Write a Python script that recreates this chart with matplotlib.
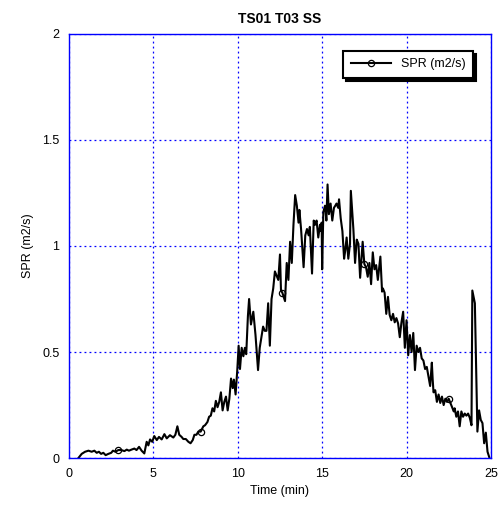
import numpy as np
import matplotlib.pyplot as plt

plt.rcParams['font.family'] = ['Liberation Sans', 'DejaVu Sans']

# time (min) and spread rate (m2/s)
time_min = [
    0.55, 0.75, 0.95, 1.15, 1.34, 1.5, 1.64, 1.77, 1.9, 2.03, 2.17, 2.33, 2.5, 2.6, 2.75,
    2.92, 3.1, 3.28, 3.42, 3.55, 3.7, 3.87, 4.0, 4.15, 4.3, 4.46, 4.6, 4.7, 4.8, 4.93,
    5.05, 5.2, 5.33, 5.49, 5.65, 5.79, 5.98, 6.18, 6.3, 6.42, 6.53, 6.67, 6.77, 6.92, 7.07,
    7.2, 7.33, 7.43, 7.55, 7.66, 7.8, 7.96, 8.06, 8.2, 8.3, 8.4, 8.5, 8.6, 8.7, 8.8,
    8.9, 9.0, 9.1, 9.2, 9.3, 9.4, 9.5, 9.6, 9.7, 9.77, 9.87, 9.97, 10.05, 10.13, 10.23,
    10.33, 10.42, 10.5, 10.6, 10.67, 10.78, 10.92, 11.05, 11.2, 11.3, 11.4, 11.5, 11.6, 11.7, 11.8,
    11.9, 12.0, 12.1, 12.2, 12.3, 12.4, 12.5, 12.56, 12.64, 12.8, 12.9, 13.0, 13.1, 13.2, 13.3,
    13.4, 13.5, 13.6, 13.65, 13.75, 13.84, 13.9, 14.0, 14.1, 14.2, 14.27, 14.4, 14.5, 14.58, 14.67,
    14.77, 14.87, 14.93, 14.97, 15.0, 15.07, 15.17, 15.25, 15.32, 15.4, 15.5, 15.6, 15.7, 15.78, 15.85,
    15.95, 16.0, 16.1, 16.2, 16.3, 16.37, 16.45, 16.55, 16.65, 16.7, 16.85, 16.95, 17.05, 17.15, 17.25,
    17.4, 17.5, 17.6, 17.7, 17.8, 17.9, 18.0, 18.1, 18.2, 18.3, 18.45, 18.55, 18.6, 18.7, 18.8,
    18.9, 19.0, 19.1, 19.2, 19.3, 19.4, 19.5, 19.6, 19.7, 19.8, 19.9, 20.0, 20.1, 20.2, 20.3,
    20.4, 20.5, 20.6, 20.7, 20.8, 20.9, 21.0, 21.1, 21.2, 21.3, 21.4, 21.5, 21.55, 21.6, 21.7,
    21.8, 21.9, 22.0, 22.1, 22.2, 22.3, 22.4, 22.5, 22.65, 22.8, 22.85, 22.95, 23.05, 23.15, 23.25,
    23.35, 23.45, 23.55, 23.65, 23.75, 23.85, 23.9, 24.05, 24.2, 24.3, 24.4, 24.5, 24.6, 24.7, 24.8,
    24.9,
]
spr = [
    0.0, 0.02, 0.03, 0.035, 0.03, 0.035, 0.025, 0.03, 0.02, 0.025, 0.014, 0.02, 0.025, 0.035, 0.03,
    0.038, 0.038, 0.033, 0.04, 0.035, 0.04, 0.045, 0.038, 0.053, 0.035, 0.022, 0.077, 0.06, 0.088, 0.077,
    0.104, 0.085, 0.10, 0.088, 0.113, 0.093, 0.108, 0.097, 0.11, 0.15, 0.11, 0.10, 0.09, 0.09, 0.077,
    0.07, 0.085, 0.11, 0.11, 0.125, 0.125, 0.15, 0.155, 0.17, 0.195, 0.20, 0.235, 0.22, 0.27, 0.24,
    0.265, 0.31, 0.225, 0.265, 0.29, 0.225, 0.28, 0.375, 0.33, 0.37, 0.30, 0.415, 0.53, 0.42, 0.52,
    0.48, 0.52, 0.49, 0.67, 0.75, 0.63, 0.69, 0.58, 0.415, 0.52, 0.57, 0.62, 0.60, 0.60, 0.73,
    0.53, 0.75, 0.80, 0.88, 0.86, 0.84, 0.96, 0.79, 0.78, 0.74, 0.92, 0.84, 1.02, 0.92, 1.10,
    1.24, 1.19, 1.11, 1.17, 1.08, 0.97, 0.90, 1.05, 1.08, 1.05, 1.09, 0.87, 1.12, 1.10, 1.12,
    1.04, 1.10, 1.07, 1.11, 0.89, 1.16, 1.19, 1.12, 1.29, 1.15, 1.20, 1.12, 1.18, 1.19, 1.20,
    1.18, 1.22, 1.13, 1.07, 0.94, 0.98, 1.04, 0.94, 1.01, 1.26, 1.08, 0.92, 1.03, 1.01, 0.85,
    1.02, 0.915, 0.90, 0.855, 0.92, 0.82, 0.97, 0.89, 0.91, 0.84, 0.95, 0.785, 0.80, 0.78, 0.68,
    0.76, 0.675, 0.65, 0.68, 0.64, 0.66, 0.635, 0.57, 0.64, 0.69, 0.52, 0.65, 0.485, 0.58, 0.50,
    0.59, 0.415, 0.53, 0.50, 0.52, 0.47, 0.46, 0.42, 0.43, 0.385, 0.34, 0.45, 0.37, 0.31, 0.32,
    0.265, 0.30, 0.26, 0.29, 0.25, 0.28, 0.265, 0.28, 0.25, 0.22, 0.235, 0.195, 0.22, 0.15, 0.22,
    0.195, 0.21, 0.20, 0.21, 0.19, 0.155, 0.79, 0.73, 0.125, 0.225, 0.18, 0.165, 0.07, 0.12, 0.03,
    0.005,
]
marker_times = [2.92, 7.8, 12.64, 17.5, 22.5]

t = np.array(time_min)
v = np.array(spr)
mark_idx = [int(np.argmin(np.abs(t - m))) for m in marker_times]

fig = plt.figure(figsize=(5.04, 5.13), dpi=100)
ax = fig.add_axes([0.137, 0.107, 0.837, 0.827])

ax.plot(t, v, '-', color='black', lw=1.5, marker='o', markersize=4.5,
        markerfacecolor='none', markeredgecolor='black', markeredgewidth=0.9,
        markevery=mark_idx, label='SPR (m2/s)')

ax.set_xlim(0, 25)
ax.set_ylim(0, 2)
ax.set_xticks([0, 5, 10, 15, 20, 25])
ax.set_yticks([0, 0.5, 1, 1.5, 2])
ax.set_yticklabels(['0', '0.5', '1', '1.5', '2'])
ax.grid(True, color='blue', linestyle=(0, (1.5, 2.5)), linewidth=0.9)
for s in ax.spines.values():
    s.set_color('blue')
    s.set_linewidth(1.0)
ax.tick_params(direction='in', color='blue', length=0, labelsize=9, pad=7)

ax.set_xlabel('Time (min)', fontsize=9)
ax.set_ylabel('SPR (m2/s)', fontsize=9, labelpad=6)
ax.set_title('TS01 T03 SS', fontsize=10, fontweight='bold', pad=8)

leg = ax.legend(loc='upper right', bbox_to_anchor=(0.957, 0.96), fontsize=9,
                fancybox=False, framealpha=1, edgecolor='black', borderaxespad=0,
                shadow={'color': 'black', 'alpha': 1, 'ox': 2, 'oy': -2},
                handlelength=3.2, borderpad=0.6)
leg.get_frame().set_linewidth(1.5)

fig.savefig('out.png', dpi=100)
